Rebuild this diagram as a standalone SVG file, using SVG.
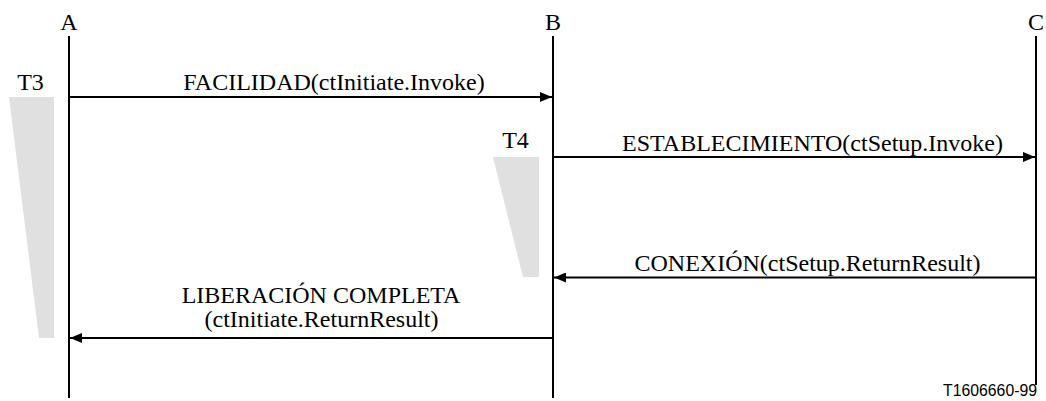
<svg xmlns="http://www.w3.org/2000/svg" width="1046" height="401" viewBox="0 0 1046 401">
<style>
.lbl{font-family:"Liberation Serif","Times New Roman",serif;font-size:24px;fill:#000;text-anchor:middle}
.code{font-family:"Liberation Sans",Arial,sans-serif;font-size:15.8px;fill:#000;text-anchor:end}
.life{stroke:#000;stroke-width:2;fill:none}
.msg{stroke:#000;stroke-width:2;fill:none}
.tmr{fill:#e0e0e0;stroke:none}
</style>
<defs>
<marker id="ah" viewBox="0 0 12 10" refX="12" refY="5" markerWidth="12" markerHeight="10" markerUnits="userSpaceOnUse" orient="auto">
<path d="M0,0 L12,5 L0,10 Z" fill="#000"/>
</marker>
</defs>
<rect width="1046" height="401" fill="#fff"/>
<g id="timers">
<polygon class="tmr" points="9,97 54,97 54,338 39,338"/>
<polygon class="tmr" points="493,157 539,157 539,277 523,277"/>
<text class="lbl" x="30.5" y="90">T3</text>
<text class="lbl" x="515.5" y="148">T4</text>
</g>
<g id="A">
<text class="lbl" x="69" y="30">A</text>
<line class="life" x1="69" y1="36" x2="69" y2="398"/>
</g>
<g id="B">
<text class="lbl" x="553" y="30">B</text>
<line class="life" x1="553" y1="36" x2="553" y2="398"/>
</g>
<g id="C">
<text class="lbl" x="1036" y="30">C</text>
<line class="life" x1="1036" y1="36" x2="1036" y2="385"/>
</g>
<g id="connectors">
<line class="msg" x1="69" y1="97" x2="552" y2="97" marker-end="url(#ah)"/>
<text class="lbl" x="334" y="90">FACILIDAD(ctInitiate.Invoke)</text>
<line class="msg" x1="553" y1="157" x2="1035" y2="157" marker-end="url(#ah)"/>
<text class="lbl" x="812.5" y="151">ESTABLECIMIENTO(ctSetup.Invoke)</text>
<line class="msg" x1="1036" y1="277.5" x2="554" y2="277.5" marker-end="url(#ah)"/>
<text class="lbl" x="807.5" y="271">CONEXIÓN(ctSetup.ReturnResult)</text>
<line class="msg" x1="553" y1="338" x2="70" y2="338" marker-end="url(#ah)"/>
<text class="lbl" x="321" y="303">LIBERACIÓN COMPLETA</text>
<text class="lbl" x="321.5" y="327">(ctInitiate.ReturnResult)</text>
</g>
<text class="code" x="1037" y="396">T1606660-99</text>
</svg>
